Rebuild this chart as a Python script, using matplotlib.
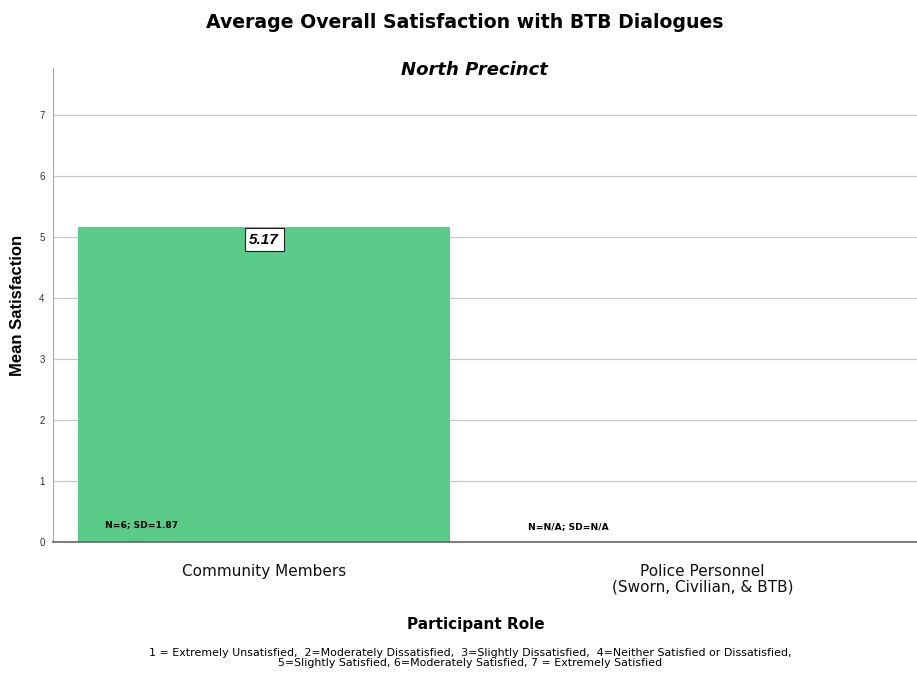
import matplotlib
matplotlib.use("Agg")
import matplotlib.pyplot as plt

categories = ["Community Members", "Police Personnel\n(Sworn, Civilian, & BTB)"]
means = [5.17, 0.0]
value_labels = ["5.17", None]
stat_labels = ["N=6; SD=1.87", "N=N/A; SD=N/A"]
yticks = [0, 1, 2, 3, 4, 5, 6, 7]

W, H = 917, 673
fig = plt.figure(figsize=(W / 100, H / 100), dpi=100)
ax = fig.add_axes([53 / W, 1 - 542 / H, (917 - 53) / W, (542 - 68) / H])

x = [0, 1]
ax.bar(x, means, width=0.85, color="#5bcb8a", zorder=2)
ax.set_xlim(-0.482, 1.49)
ax.set_ylim(0, 7.77)
ax.set_yticks(yticks)
ax.set_yticklabels([str(t) for t in yticks], fontsize=7, color="#333333", family="Liberation Sans")
ax.yaxis.grid(True, color="#c8c8c8", linewidth=0.9, zorder=0)
ax.tick_params(axis="y", length=0, pad=6)
ax.tick_params(axis="x", length=0, pad=16)
ax.set_xticks(x)
ax.set_xticklabels(categories, fontsize=11, family="DejaVu Sans", color="#111111", linespacing=1.05)
for s in ["top", "right"]:
    ax.spines[s].set_visible(False)
ax.spines["left"].set_color("#aaaaaa")
ax.spines["bottom"].set_color("#666666")
ax.spines["bottom"].set_linewidth(1.2)

stat_offsets = [-0.363, -0.397]
stat_y = [0.28, 0.25]
for xi, m, vl, sl, off, sy in zip(x, means, value_labels, stat_labels, stat_offsets, stat_y):
    if vl is not None:
        ax.text(xi, m - 0.1, vl, ha="center", va="top", fontsize=11, fontweight="bold",
                fontstyle="italic", family="Liberation Sans",
                bbox=dict(boxstyle="square,pad=0.3", facecolor="white", edgecolor="#222222", linewidth=0.8),
                zorder=4)
    ax.text(xi + off, sy, sl, ha="left", va="center", fontsize=6.6,
            fontweight="bold", family="DejaVu Sans", zorder=4)

ax.set_ylabel("Mean Satisfaction", fontsize=12, fontweight="bold", family="Liberation Sans", labelpad=10)

fig.text(465 / W, 1 - 22 / H, "Average Overall Satisfaction with BTB Dialogues", ha="center", va="center",
         fontsize=13.6, fontweight="bold", family="DejaVu Sans")
fig.text(474 / W, 1 - 70 / H, "North Precinct", ha="center", va="center",
         fontsize=13, fontstyle="italic", fontweight="bold", family="DejaVu Sans")
fig.text(476 / W, 1 - 624 / H, "Participant Role", ha="center", va="center",
         fontsize=11, fontweight="bold", family="DejaVu Sans")
fig.text(470 / W, 1 - 658 / H,
         "1 = Extremely Unsatisfied,  2=Moderately Dissatisfied,  3=Slightly Dissatisfied,  4=Neither Satisfied or Dissatisfied,\n"
         "5=Slightly Satisfied, 6=Moderately Satisfied, 7 = Extremely Satisfied",
         ha="center", va="center", fontsize=7.9, family="DejaVu Sans", linespacing=1.0)

fig.savefig("out.png", dpi=100)
